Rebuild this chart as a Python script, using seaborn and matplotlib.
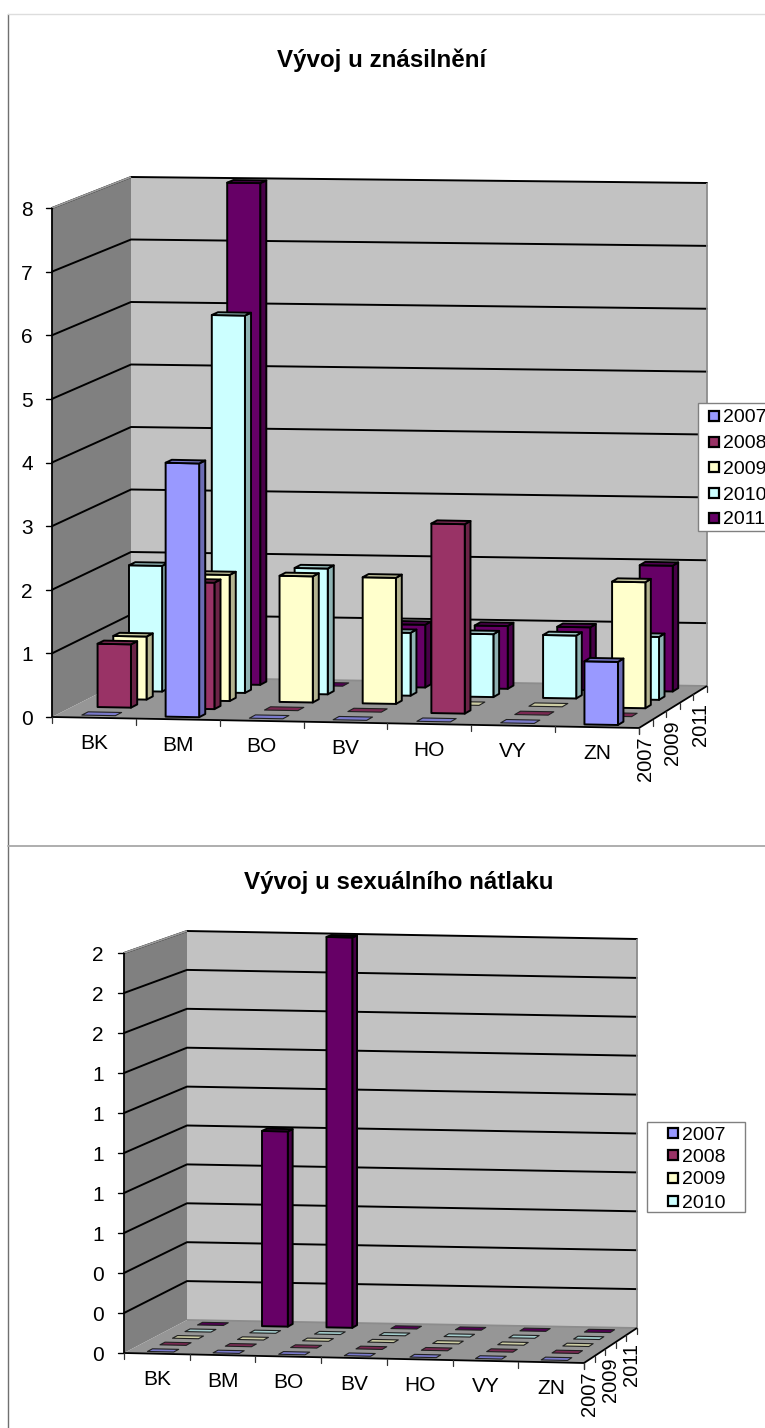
import numpy as np
import pandas as pd
import matplotlib
matplotlib.use("Agg")
import matplotlib.pyplot as plt
from matplotlib.patches import Rectangle
import seaborn as sns

# data
districts = ["BK", "BM", "BO", "BV", "HO", "VY", "ZN"]
years = ["2007", "2008", "2009", "2010", "2011"]

rape_2007 = [0, 4, 0, 0, 0, 0, 1]
rape_2008 = [1, 2, 0, 0, 3, 0, 0]
rape_2009 = [1, 2, 2, 2, 0, 0, 2]
rape_2010 = [2, 6, 2, 1, 1, 1, 1]
rape_2011 = [0, 8, 0, 1, 1, 1, 2]
rape_ticks = [0, 1, 2, 3, 4, 5, 6, 7, 8]

pressure_2007 = [0, 0, 0, 0, 0, 0, 0]
pressure_2008 = [0, 0, 0, 0, 0, 0, 0]
pressure_2009 = [0, 0, 0, 0, 0, 0, 0]
pressure_2010 = [0, 0, 0, 0, 0, 0, 0]
pressure_2011 = [0, 1, 2, 0, 0, 0, 0]
pressure_ticks = [0, 0.2, 0.4, 0.6, 0.8, 1.0, 1.2, 1.4, 1.6, 1.8, 2.0]

front_colors = sns.color_palette(["#9999FF", "#993366", "#FFFFCC", "#CCFFFF", "#660066"])

sns.set_theme(style="white")
plt.rcParams['font.family'] = ['Liberation Sans', 'DejaVu Sans']
plt.rcParams['axes.unicode_minus'] = False


def shade(color, k):
    return tuple(np.array(color) * k)


def make_projection(corners, n_cat, n_ser, vmax):
    # corners: pixel positions of the plot box, [depth][x][value]
    corners = np.array(corners, dtype=float)

    def project(c, s, v):
        u, w, t = c / n_cat, s / n_ser, v / vmax
        pt = np.zeros(2)
        for i, wi in enumerate((1 - w, w)):
            for j, uj in enumerate((1 - u, u)):
                for k, tk in enumerate((1 - t, t)):
                    pt += wi * uj * tk * corners[i, j, k]
        return pt
    return project


def face(ax, project, pts, color, zorder, lw=0.0, ec="none"):
    xy = np.array([project(*p) for p in pts])
    ax.fill(xy[:, 0], xy[:, 1], facecolor=color, edgecolor=ec, linewidth=lw, zorder=zorder, joinstyle="round")


def draw_chart(ax, title, title_xy, series, ticks, corners, legend_box, legend_rows, legend_x, n_legend, tick_x, label_dy):
    n_cat, n_ser = len(districts), len(years)
    vmax = ticks[-1]
    project = make_projection(corners, n_cat, n_ser, vmax)

    # walls and floor
    face(ax, project, [(0, n_ser, 0), (n_cat, n_ser, 0), (n_cat, n_ser, vmax), (0, n_ser, vmax)], "#C2C2C2", 0.1)
    face(ax, project, [(0, 0, 0), (0, n_ser, 0), (0, n_ser, vmax), (0, 0, vmax)], "#808080", 0.1)
    face(ax, project, [(0, 0, 0), (n_cat, 0, 0), (n_cat, n_ser, 0), (0, n_ser, 0)], "#969696", 0.2)

    # grid lines on both walls
    rows = []
    for v in ticks[1:]:
        for order, (c, s) in enumerate([(0, 0), (0, n_ser), (n_cat, n_ser)]):
            x, y = project(c, s, v)
            rows.append({"level": v, "order": order, "px": x, "py": y})
    sns.lineplot(data=pd.DataFrame(rows), x="px", y="py", units="level", estimator=None, sort=False,
                 color="black", linewidth=1.4, legend=False, zorder=0.5, ax=ax)

    # wall edges
    for a, b, col in [((n_cat, n_ser, 0), (n_cat, n_ser, vmax), "#8C8C8C"), ((0, 0, vmax), (0, n_ser, vmax), "#9A9A9A"),
                      ((0, n_ser, 0), (n_cat, n_ser, 0), "#8C8C8C"), ((0, 0, 0), (0, 0, vmax), "black"),
                      ((0, 0, 0), (n_cat, 0, 0), "black"), ((n_cat, 0, 0), (n_cat, n_ser, 0), "black")]:
        pa, pb = project(*a), project(*b)
        ax.plot([pa[0], pb[0]], [pa[1], pb[1]], color=col, lw=1.3, zorder=0.6, solid_capstyle="butt")

    # bars, back row first
    z = 1.0
    for s in range(n_ser - 1, -1, -1):
        col = front_colors[s]
        for c, val in enumerate(series[s]):
            c0, c1, s0, s1 = c + 0.3, c + 0.7, s + 0.3, s + 0.7
            kw = dict(lw=1.4, ec="black")
            if val > 0:
                face(ax, project, [(c1, s0, 0), (c1, s1, 0), (c1, s1, val), (c1, s0, val)], shade(col, 0.7), z, **kw)
                face(ax, project, [(c0, s0, 0), (c1, s0, 0), (c1, s0, val), (c0, s0, val)], col, z, **kw)
            else:
                kw = dict(lw=0.8, ec="#202020")
            face(ax, project, [(c0, s0, val), (c1, s0, val), (c1, s1, val), (c0, s1, val)], shade(col, 0.8), z, **kw)
            z += 0.01

    # value axis
    for v in ticks:
        x, y = project(0, 0, v)
        ax.plot([x - 6, x], [y, y], color="black", lw=1.0, zorder=0.7)
        ax.text(tick_x, y + 2.5, f"{v:.0f}", ha="right", va="center", fontsize=15, color="black")

    # category axis
    for c in range(len(districts) + 1):
        x, y = project(c, 0, 0)
        ax.plot([x, x], [y, y + 6], color="#333333", lw=0.9, zorder=0.7)
    for c, name in enumerate(districts):
        x, y = project(c + 0.5, 0, 0)
        ax.text(x, y + 26, name, ha="center", va="center", fontsize=15, color="black")

    # depth axis
    for s in range(n_ser + 1):
        x, y = project(n_cat, s, 0)
        ax.plot([x, x], [y, y + 6], color="#333333", lw=0.9, zorder=0.7)
    for s in (0, 2, 4):
        x, y = project(n_cat, s + 0.5, 0)
        ax.text(x, y + label_dy, years[s], rotation=90, ha="center", va="top", fontsize=14.5, color="black")

    # title
    ax.text(title_xy[0], title_xy[1], title, ha="center", va="center", fontsize=17.4, fontweight="bold", color="black")

    # legend, drawn by hand because the first box runs off the edge
    lx0, ly0, lx1, ly1 = legend_box
    ax.add_patch(Rectangle((lx0, ly0), lx1 - lx0, ly1 - ly0, facecolor="white", edgecolor="#808080", lw=1.0, zorder=5))
    for name, col, y in zip(years[:n_legend], front_colors[:n_legend], legend_rows):
        ax.add_patch(Rectangle((legend_x, y - 5), 10, 10, facecolor=col, edgecolor="black", lw=1.6, zorder=6))
        ax.text(legend_x + 14, y + 2, name, ha="left", va="center", fontsize=14, color="black", zorder=6)


fig = plt.figure(figsize=(7.65, 14.28), dpi=100, facecolor="white")
ax = fig.add_axes([0, 0, 1, 1])

# chart frames
ax.plot([8, 8], [14, 1428], color="#707070", lw=1.0, zorder=0.05)
ax.plot([8, 765], [14, 14], color="#DDDDDD", lw=1.0, zorder=0.05)
ax.plot([8, 765], [846, 846], color="#A8A8A8", lw=1.3, zorder=0.05)

draw_chart(ax, "Vývoj u znásilnění", (382, 60),
           [rape_2007, rape_2008, rape_2009, rape_2010, rape_2011], rape_ticks,
           [[[(52, 717), (52, 208)], [(639, 728), (639, 223)]],
            [[(131, 677), (131, 177)], [(707, 686), (707, 183)]]],
           (698, 403, 772, 531), [416, 442, 467, 493, 518], 709, 5, 33, 13)

draw_chart(ax, "Vývoj u sexuálního nátlaku", (399, 883),
           [pressure_2007, pressure_2008, pressure_2009, pressure_2010, pressure_2011], pressure_ticks,
           [[[(124, 1353), (124, 953)], [(584, 1363), (584, 966)]],
            [[(187, 1320), (187, 931)], [(637, 1328), (637, 939)]]],
           (647, 1122, 745, 1212), [1133, 1155, 1178, 1201], 668, 4, 104, 12)

ax.set_xlim(0, 765)
ax.set_ylim(1428, 0)
ax.axis("off")
fig.savefig("out.png", dpi=100, facecolor="white")
